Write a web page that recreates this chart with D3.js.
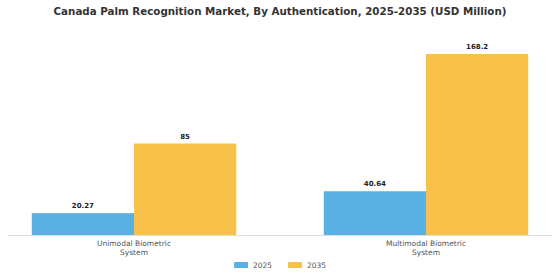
<!DOCTYPE html>
<html>
<head>
<meta charset="utf-8">
<script src="https://cdn.jsdelivr.net/npm/d3@7"></script>
<style>
  body { margin: 0; background: #fff; }
  text { font-family: "DejaVu Sans", sans-serif; }
</style>
</head>
<body>
<svg id="chart" width="560" height="280"></svg>
<script>
// data
const categories = ["Unimodal Biometric System", "Multimodal Biometric System"];
const categoryLines = [["Unimodal Biometric", "System"], ["Multimodal Biometric", "System"]];
const years = ["2025", "2035"];
const values2025 = [20.27, 40.64];
const values2035 = [85, 168.2];
const valueLabels2025 = ["20.27", "40.64"];
const valueLabels2035 = ["85", "168.2"];
const colors = ["#5aafe3", "#f7c14a"];

let svg = d3.select("#chart");
let margin = {top: 30, bottom: 45};
let height = 280;

let rows = categories.map(function(c, i){
    return {cat: c, vals: [values2025[i], values2035[i]], labels: [valueLabels2025[i], valueLabels2035[i]]};
});

let x0 = d3.scaleBand().domain(categories).range([-12, 572]).paddingInner(0.3).paddingOuter(0.15);
let x1 = d3.scaleBand().domain(years).range([0, x0.bandwidth()]);
let y = d3.scaleLinear().domain([0, 190.5]).range([height - margin.bottom, margin.top]);

// title
svg.append("text")
    .attr("x", 280).attr("y", 14.5)
    .attr("text-anchor", "middle")
    .attr("font-size", 10.3).attr("font-weight", "bold")
    .attr("fill", "#333")
    .text("Canada Palm Recognition Market, By Authentication, 2025-2035 (USD Million)");

// bars
let groups = svg.selectAll(".grp").data(rows).enter().append("g")
    .attr("class", "grp")
    .attr("transform", d => "translate(" + x0(d.cat) + ",0)");

groups.selectAll("rect").data(d => d.vals.map((v, i) => ({year: years[i], v: v})))
    .enter().append("rect")
    .attr("x", d => x1(d.year))
    .attr("width", x1.bandwidth())
    .attr("y", d => y(d.v))
    .attr("height", d => y(0) - y(d.v))
    .attr("fill", (d, i) => colors[i]);

groups.selectAll(".val").data(d => d.vals.map((v, i) => ({year: years[i], v: v, label: d.labels[i]})))
    .enter().append("text")
    .attr("class", "val")
    .attr("x", d => x1(d.year) + x1.bandwidth() / 2)
    .attr("y", d => y(d.v) - 5)
    .attr("text-anchor", "middle")
    .attr("font-size", 7).attr("font-weight", "bold")
    .attr("fill", "#222")
    .text(d => d.label);

// x axis
let axis = svg.append("g")
    .attr("transform", "translate(0," + y(0) + ")")
    .call(d3.axisBottom(x0).tickSize(0).tickFormat(""));
axis.select(".domain").attr("stroke", "#ddd").attr("d", "M8,0.5H552");

categories.forEach(function(c, i){
    let t = svg.append("text")
        .attr("x", x0(c) + x0.bandwidth() / 2)
        .attr("y", y(0) + 11)
        .attr("text-anchor", "middle")
        .attr("font-size", 7.5)
        .attr("fill", "#555");
    categoryLines[i].forEach(function(line, j){
        t.append("tspan").attr("x", x0(c) + x0.bandwidth() / 2).attr("dy", j === 0 ? 0 : 8.5).text(line);
    });
});

// legend
let legend = svg.append("g").attr("transform", "translate(234,265)");
years.forEach(function(yr, i){
    let g = legend.append("g").attr("transform", "translate(" + (i * 54) + ",0)");
    g.append("rect").attr("x", 0).attr("y", -3).attr("width", 14).attr("height", 6).attr("rx", 1).attr("fill", colors[i]);
    g.append("text").attr("x", 19).attr("y", 3).attr("font-size", 7.5).attr("fill", "#555").text(yr);
});
</script>
</body>
</html>
